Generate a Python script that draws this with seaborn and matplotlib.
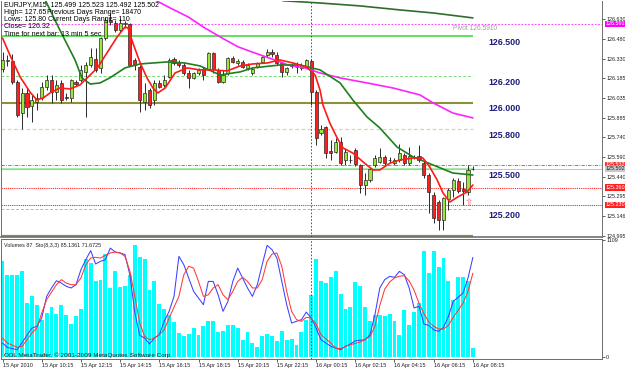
import numpy as np
import pandas as pd
import matplotlib
matplotlib.use("Agg")
import matplotlib.pyplot as plt
import seaborn as sns

# EURJPY, M15 - 15 Apr 08:15 .. 16 Apr 08:15 (97 bars)
opens = [126.252, 126.313, 126.313, 126.155, 125.922, 126.072, 125.974, 126.005, 126.035, 126.117,
         126.170, 126.080, 126.147, 126.042, 126.035, 126.155, 126.170, 126.230, 126.283, 126.328,
         126.260, 126.486, 126.621, 126.599, 126.546, 126.591, 126.591, 126.320, 126.268, 126.005,
         126.095, 126.020, 126.147, 126.132, 126.193, 126.328, 126.305, 126.283, 126.223, 126.185,
         126.223, 126.253, 126.253, 126.373, 126.245, 126.155, 126.223, 126.335, 126.298, 126.305,
         126.260, 126.223, 126.268, 126.305, 126.358, 126.380, 126.358, 126.298, 126.230, 126.275,
         126.270, 126.260, 126.268, 126.313, 126.080, 125.771, 125.817, 125.636, 125.629, 125.704,
         125.568, 125.570, 125.644, 125.531, 125.380, 125.418, 125.531, 125.553, 125.591, 125.566,
         125.546, 125.568, 125.606, 125.546, 125.593, 125.598, 125.546, 125.456, 125.305, 125.253,
         125.117, 125.275, 125.343, 125.410, 125.350, 125.328, 125.499]
highs = [126.380, 126.358, 126.365, 126.170, 126.110, 126.110, 126.057, 126.072, 126.155, 126.208,
         126.208, 126.170, 126.170, 126.072, 126.175, 126.170, 126.283, 126.305, 126.411, 126.411,
         126.490, 126.644, 126.674, 126.621, 126.636, 126.614, 126.599, 126.335, 126.283, 126.147,
         126.110, 126.170, 126.170, 126.208, 126.335, 126.343, 126.320, 126.298, 126.245, 126.230,
         126.260, 126.268, 126.380, 126.378, 126.260, 126.245, 126.343, 126.350, 126.328, 126.320,
         126.298, 126.268, 126.305, 126.350, 126.402, 126.402, 126.380, 126.305, 126.268, 126.298,
         126.305, 126.298, 126.328, 126.328, 126.095, 125.832, 125.820, 125.719, 125.734, 125.741,
         125.659, 125.606, 125.659, 125.538, 125.471, 125.516, 125.606, 125.659, 125.606, 125.591,
         125.583, 125.689, 125.621, 125.666, 125.606, 125.681, 125.568, 125.471, 125.328, 125.268,
         125.290, 125.358, 125.433, 125.433, 125.403, 125.531, 125.523]
lows = [126.230, 126.275, 126.140, 125.892, 125.801, 125.892, 125.854, 125.944, 126.020, 126.095,
        125.997, 126.020, 125.997, 126.020, 126.005, 126.125, 126.155, 125.892, 126.268, 126.230,
        126.223, 126.471, 126.583, 126.531, 126.531, 126.561, 126.280, 126.245, 125.929, 125.944,
        125.959, 125.982, 126.110, 126.117, 126.185, 126.283, 126.268, 126.208, 126.110, 126.177,
        126.208, 126.170, 126.245, 126.223, 126.147, 126.147, 126.208, 126.298, 126.283, 126.260,
        126.245, 126.208, 126.260, 126.298, 126.343, 126.343, 126.283, 126.193, 126.208, 126.260,
        126.223, 126.245, 126.260, 125.982, 125.681, 125.756, 125.583, 125.568, 125.621, 125.531,
        125.531, 125.546, 125.523, 125.320, 125.305, 125.403, 125.516, 125.546, 125.531, 125.546,
        125.531, 125.553, 125.531, 125.531, 125.576, 125.553, 125.433, 125.170, 125.095, 125.042,
        125.042, 125.192, 125.290, 125.320, 125.230, 125.305, 125.492]
closes = [126.320, 126.315, 126.155, 125.907, 126.072, 125.967, 126.020, 126.035, 126.117, 126.170,
          126.080, 126.132, 126.020, 126.035, 126.170, 126.140, 126.245, 126.283, 126.343, 126.245,
          126.486, 126.621, 126.606, 126.546, 126.599, 126.595, 126.283, 126.283, 126.020, 126.072,
          125.982, 126.147, 126.117, 126.170, 126.320, 126.298, 126.283, 126.223, 126.185, 126.223,
          126.245, 126.208, 126.373, 126.253, 126.155, 126.208, 126.335, 126.305, 126.313, 126.268,
          126.283, 126.253, 126.298, 126.343, 126.380, 126.365, 126.298, 126.230, 126.260, 126.283,
          126.266, 126.283, 126.320, 126.080, 125.734, 125.801, 125.621, 125.621, 125.704, 125.546,
          125.629, 125.566, 125.538, 125.380, 125.418, 125.501, 125.583, 125.591, 125.546, 125.570,
          125.568, 125.621, 125.546, 125.598, 125.590, 125.568, 125.456, 125.328, 125.132, 125.117,
          125.283, 125.343, 125.418, 125.335, 125.335, 125.493, 125.502]
volumes = [912, 779, 779, 779, 817, 513, 580, 494, 352, 418,
           475, 409, 494, 399, 314, 390, 456, 931, 893, 722,
           732, 979, 656, 817, 665, 675, 779, 1064, 950, 931,
           637, 722, 504, 456, 399, 330, 228, 200, 219, 276,
           209, 295, 342, 342, 238, 247, 304, 304, 275, 164,
           237, 133, 98, 202, 221, 199, 152, 249, 161, 173,
           117, 237, 354, 585, 932, 720, 702, 756, 812, 600,
           458, 471, 711, 670, 471, 344, 401, 401, 386, 408,
           344, 211, 448, 300, 427, 512, 1008, 796, 1008, 850,
           938, 723, 543, 756, 756, 718, 87]

# moving averages (bar index, price)
ma_fast_bar = [0, 1.5, 3.6, 5.6, 7.0, 8.3, 9.7, 11.7, 13.8, 15.8, 17.9, 19.5, 21.3, 23.4, 25.0, 25.6,
               26.6, 28.1, 29.5, 30.7, 31.7, 33.2, 35.2, 37.7, 40.3, 43.0, 45.8, 48.5, 51.1, 54.0,
               56.6, 59.3, 62.1, 63.8, 64.8, 65.4, 66.8, 68.3, 69.5, 71.5, 73.6, 75.6, 77.0, 79.1,
               81.1, 83.8, 85.8, 87.2, 88.7, 89.9, 91.3, 92.9, 94.8, 96.0]
ma_fast_price = [126.485, 126.357, 126.192, 126.079, 126.019, 126.034, 126.072, 126.109, 126.102,
                 126.132, 126.207, 126.267, 126.372, 126.493, 126.568, 126.560, 126.448, 126.297,
                 126.184, 126.109, 126.072, 126.109, 126.222, 126.260, 126.245, 126.245, 126.237,
                 126.275, 126.290, 126.297, 126.320, 126.297, 126.267, 126.207, 126.094, 125.981,
                 125.846, 125.733, 125.658, 125.620, 125.553, 125.493, 125.493, 125.545, 125.568,
                 125.583, 125.583, 125.515, 125.418, 125.320, 125.252, 125.290, 125.327, 125.380]
ma_mid_bar = [8.7, 11.7, 14.8, 16.2, 17.9, 19.9, 21.9, 25.0, 28.1, 33.6, 37.2, 40.3, 44.4, 48.5,
              51.1, 56.6, 60.7, 64.8, 68.9, 71.5, 74.4, 77.0, 80.5, 83.8, 87.9, 91.9, 96.0]
ma_mid_price = [126.771, 126.545, 126.320, 126.185, 126.139, 126.147, 126.185, 126.260, 126.290,
                126.305, 126.297, 126.275, 126.207, 126.230, 126.260, 126.282, 126.282, 126.245,
                126.147, 126.019, 125.891, 125.809, 125.666, 125.591, 125.530, 125.470, 125.455]
ma_slow_bar = [31.1, 34.2, 37.9, 41.3, 44.8, 48.1, 51.5, 55.0, 58.3, 61.7, 64.8, 68.9, 74.4, 79.7,
               85.2, 87.9, 91.9, 96.0]
ma_slow_price = [126.771, 126.711, 126.643, 126.560, 126.485, 126.418, 126.372, 126.327, 126.282,
                 126.260, 126.222, 126.185, 126.147, 126.109, 126.057, 125.997, 125.921, 125.884]
ma_long_bar = [57.2, 64.8, 73.0, 81.1, 87.9, 96.0]
ma_long_price = [126.765, 126.748, 126.726, 126.696, 126.673, 126.636]

# Stochastic(8,3,3)
sto_main_bar = [0, 1, 3, 6, 7, 8, 9, 10, 11, 12, 13, 14, 15, 16, 17, 18, 19, 20, 21, 22, 23, 24, 25,
                26, 27, 28, 29, 30, 31, 32, 33, 34, 35, 36, 37, 38, 39, 40, 41, 42, 43, 44, 45, 46,
                47, 48, 49, 50, 51, 52, 53, 54, 55, 56, 57, 58, 59, 60, 61, 62, 63, 64, 65, 67, 68,
                69, 70, 71, 72, 74, 75, 76, 77, 78, 79, 80, 81, 82, 83, 84, 85, 86, 87, 88, 89, 90,
                91, 92, 94, 95, 96]
sto_main_val = [11.9, 8.2, 6.2, 24.7, 26.2, 33.3, 51.8, 59.0, 65.2, 63.2, 60.4, 59.0, 61.8, 74.6,
                83.2, 90.9, 79.5, 81.8, 83.2, 93.1, 89.7, 88.9, 87.5, 70.0, 38.0, 18.5, 16.2, 11.1,
                16.2, 19.0, 30.5, 39.0, 51.8, 86.0, 78.9, 67.5, 56.1, 50.4, 44.7, 64.6, 64.6, 53.2,
                39.0, 47.5, 64.6, 76.0, 67.5, 59.0, 51.8, 61.8, 78.9, 95.4, 91.7, 84.6, 64.6, 44.7,
                29.0, 30.5, 31.9, 38.4, 33.3, 24.7, 14.8, 9.1, 7.6, 6.2, 9.1, 11.1, 13.9, 14.8,
                19.0, 36.1, 59.0, 66.1, 68.9, 68.1, 73.2, 70.3, 59.0, 41.9, 43.3, 28.2, 27.0, 23.3,
                21.9, 25.3, 34.7, 47.5, 54.7, 67.5, 85.1361]
sto_sig_bar = [0, 1, 3, 4, 6, 7, 8, 9, 11, 12, 13, 14, 15, 16, 17, 18, 19, 20, 21, 22, 23, 24, 25,
               26, 27, 28, 29, 30, 31, 32, 33, 34, 36, 37, 38, 39, 40, 41, 42, 43, 44, 45, 46, 47,
               48, 49, 50, 51, 52, 53, 54, 55, 56, 57, 58, 59, 60, 61, 62, 63, 64, 65, 67, 68, 69,
               70, 71, 73, 74, 75, 76, 77, 78, 79, 80, 81, 82, 83, 84, 85, 86, 87, 88, 89, 90, 91,
               92, 93, 94, 95, 96]
sto_sig_val = [16.2, 11.9, 8.2, 9.1, 20.5, 24.7, 37.6, 49.0, 61.8, 66.1, 63.2, 61.8, 61.8, 67.5,
               78.9, 84.6, 85.2, 84.6, 86.9, 88.9, 89.7, 88.9, 86.0, 73.2, 51.8, 29.0, 17.6, 14.8,
               16.2, 19.0, 23.3, 33.3, 51.8, 70.3, 77.5, 76.0, 64.6, 51.8, 53.2, 59.0, 61.8, 53.2,
               49.0, 56.1, 64.6, 68.1, 64.6, 59.0, 59.0, 66.1, 81.8, 88.0, 88.9, 77.5, 56.1, 39.0,
               31.9, 30.5, 33.9, 33.3, 28.2, 19.0, 11.9, 7.6, 7.1, 9.1, 10.5, 12.8, 14.8, 17.6,
               26.2, 44.0, 58.0, 64.0, 67.5, 69.0, 69.5, 65.0, 57.0, 46.0, 37.0, 30.0, 26.2, 24.0,
               23.8, 27.0, 34.0, 40.0, 46.1, 56.1, 71.6725]

# horizontal levels drawn up to the last bar
level_prices = [126.5, 126.2, 126.0, 125.8, 125.5, 125.2, 125.0]
level_labels = ["126.500", "126.200", "126.000", "125.800", "125.500", "125.200", ""]
pivot_price = 126.591
ask_price = 125.532
bid_price = 125.502
stop_prices = [125.360, 125.230]
axis_prices = [126.630, 126.480, 126.330, 126.185, 126.035, 125.885, 125.740, 125.590,
               125.440, 125.295, 125.146, 124.995]
time_bars = [0, 8, 16, 24, 32, 40, 48, 56, 64, 72, 80, 88, 96]
time_labels = ["15 Apr 2010", "15 Apr 10:15", "15 Apr 12:15", "15 Apr 14:15", "15 Apr 16:15",
               "15 Apr 18:15", "15 Apr 20:15", "15 Apr 22:15", "16 Apr 00:15", "16 Apr 02:15",
               "16 Apr 04:15", "16 Apr 06:15", "16 Apr 08:15"]
day_break_bar = 63
signal_bar, signal_price = 95, 125.245

sns.set_style("white")
plt.rcParams["font.family"] = ["Liberation Sans", "DejaVu Sans"]

W, H = 625, 370
fig = plt.figure(figsize=(W / 100, H / 100), dpi=100)
ax = fig.add_axes([1 / W, 1 - 237 / H, 601 / W, 236 / H])
axv = fig.add_axes([1 / W, 1 - 359 / H, 601 / W, 120 / H])
xlim = (-0.31, 122.35)

# candles
quotes = pd.DataFrame({"bar": np.arange(len(opens)), "open": opens, "high": highs,
                       "low": lows, "close": closes})
rising = quotes["close"] >= quotes["open"]
ax.vlines(quotes["bar"], quotes["low"], quotes["high"], color="#2a2a2a", lw=0.7, zorder=4)
body_low = quotes[["open", "close"]].min(axis=1)
body_h = (quotes["close"] - quotes["open"]).abs().clip(lower=0.003)
ax.bar(quotes["bar"], body_h, bottom=body_low, width=0.64,
       color=np.where(rising, "#9ae63a", "#ff1e1e"), edgecolor="#2a2a2a", linewidth=0.5, zorder=5)

# levels
last_bar = quotes["bar"].iloc[-1]
level_style = [("#55dd55", "-", 1.3), ("#77dd77", (0, (3, 2)), 0.7), ("#8f8f3a", "-", 1.5),
               ("#d9d6a6", (0, (3, 2)), 0.9), ("#a8eaa8", "-", 1.6), ("#77dd77", (0, (3, 2)), 0.7),
               ("#8f8f3a", "-", 1.6)]
for p, lab, (c, ls, lw) in zip(level_prices, level_labels, level_style):
    ax.hlines(p, xlim[0], last_bar, color=c, ls=ls, lw=lw, zorder=2)
    if lab:
        ax.annotate(lab, (99.1, p), xytext=(0, -1.2), textcoords="offset points",
                    ha="left", va="top", fontsize=6.4, fontweight="bold", color="#1c1c7c")
ax.axhline(pivot_price, color="#ff44ff", ls=(0, (1.5, 1.5)), lw=0.8, zorder=2)
ax.annotate("Pivot 126.5910", (101, pivot_price), xytext=(0, -1), textcoords="offset points",
            ha="right", va="top", fontsize=4.8, color="#a0a0a0")
ax.axhline(ask_price, color="#ff3030", ls=(0, (4, 1.5, 1, 1.5)), lw=0.6, zorder=2)
ax.axhline(bid_price, color="#b8b8b8", lw=0.6, zorder=2)
for p in stop_prices:
    ax.axhline(p, color="#ff2020", ls=(0, (1.2, 1)), lw=0.7, zorder=2)

# moving averages
for xs, ys, c in [(ma_long_bar, ma_long_price, "#2d6e2d"), (ma_slow_bar, ma_slow_price, "#ff22ff"),
                  (ma_mid_bar, ma_mid_price, "#1f7f1f"), (ma_fast_bar, ma_fast_price, "#ff1a1a")]:
    sns.lineplot(x=xs, y=ys, ax=ax, color=c, linewidth=1.2, estimator=None, sort=False, zorder=6)

ax.text(signal_bar, signal_price, "\u21e7", family="DejaVu Sans", color="#ff5a5a",
        fontsize=7, ha="center", va="center", zorder=7)
ax.axvline(day_break_bar, color="#404040", ls=(0, (2, 2)), lw=0.6, zorder=3)

ax.set_xlim(xlim)
ax.set_ylim(124.989, 126.763)
ax.set_xticks([])
ax.yaxis.tick_right()
ax.set_yticks(axis_prices)
ax.set_yticklabels([f"{p:.3f}" for p in axis_prices])
ax.tick_params(axis="y", right=True, left=False, length=2, width=0.5, pad=1,
               labelsize=3.9, colors="#202020")
ax.set_xlabel("")
ax.set_ylabel("")
for s in ax.spines.values():
    s.set_color("#707070")
    s.set_linewidth(0.7)
ax.spines["top"].set_visible(False)
ax.spines["bottom"].set_linewidth(1.2)

ytr = ax.get_yaxis_transform()
for p, fc, tc in [(pivot_price, "#ff00ff", "white"), (ask_price, "#ff3030", "white"),
                  (bid_price, "#c8c8c8", "#202020"), (stop_prices[0], "#ff2020", "white"),
                  (stop_prices[1], "#ff2020", "white")]:
    ax.text(1.006, p, f"{p:.3f}", transform=ytr, ha="left", va="center", fontsize=3.9,
            color=tc, clip_on=False, zorder=8,
            bbox=dict(boxstyle="square,pad=0.12", fc=fc, ec="none"))

# volumes + stochastic
sns.barplot(x=quotes["bar"], y=volumes, native_scale=True, color="#00ffff", saturation=1,
            width=0.8, errorbar=None, linewidth=0, ax=axv)
axv.set_xlim(xlim)
axv.set_ylim(-19, 1118.5)
axv.axvline(day_break_bar, color="#404040", ls=(0, (2, 2)), lw=0.6, zorder=3)
axs = axv.twinx()
sns.lineplot(x=sto_main_bar, y=sto_main_val, ax=axs, color="#3f3fff", linewidth=0.75,
             estimator=None, sort=False)
sns.lineplot(x=sto_sig_bar, y=sto_sig_val, ax=axs, color="#ff3a3a", linewidth=0.75,
             estimator=None, sort=False)
axs.set_ylim(-1.71, 100.85)
axs.set_yticks([])
axs.set_ylabel("")
axs.set_xlim(xlim)

axv.yaxis.tick_right()
axv.set_yticks([0, 1109])
axv.set_yticklabels(["0", "1109"])
axv.tick_params(axis="y", right=True, left=False, length=2, width=0.5, pad=1,
                labelsize=3.9, colors="#202020")
axv.set_xticks(time_bars)
axv.set_xticklabels(time_labels, ha="left")
axv.tick_params(axis="x", bottom=True, length=2, width=0.5, pad=1.2, labelsize=4,
                colors="#202020")
axv.set_xlabel("")
axv.set_ylabel("")
for a in (axv, axs):
    for s in a.spines.values():
        s.set_color("#707070")
        s.set_linewidth(0.7)

# header texts
head = [("EURJPY,M15  125.499 125.523 125.492 125.502", 4, 5),
        ("High= 127.65", 4, 12.7), ("Previous Days Range= 18470", 47, 12.7),
        ("Lows: 125.80", 4, 19.5), ("Current Days Range= 110", 48, 19.5),
        ("Close= 126.32", 4, 26.7), ("Time for next bar: 13 min 5 sec", 4, 34)]
for t, x, y in head:
    fig.text(x / W, 1 - y / H, t, fontsize=5.0, color="black", ha="left", va="center")
fig.text(4 / W, 1 - 246 / H, "Volumes 87  Sto(8,3,3) 85.1361 71.6725", fontsize=3.9,
         color="#202020", ha="left", va="center")
fig.text(4 / W, 1 - 355 / H, "ODL MetaTrader, \u00a9 2001-2009 MetaQuotes Software Corp.",
         fontsize=4.6, color="#202020", ha="left", va="center")

fig.savefig("out.png", dpi=100)
